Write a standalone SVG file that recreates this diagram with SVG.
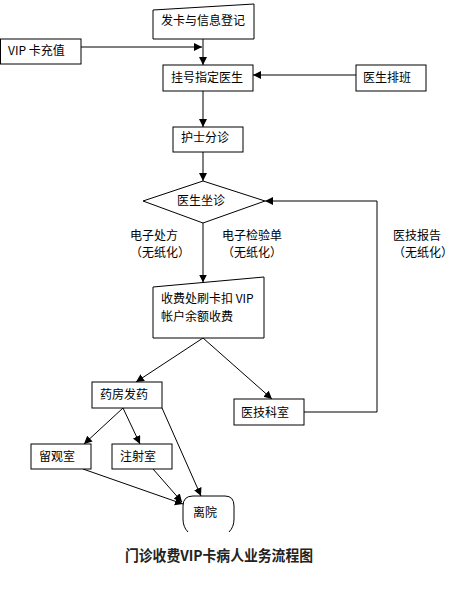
<svg xmlns="http://www.w3.org/2000/svg" width="467" height="600" viewBox="0 0 467 600">
<style>
.n{fill:#fff;stroke:#000;stroke-width:1}
.t{font-family:"Noto Sans CJK SC","Noto Sans",sans-serif;font-size:12px;fill:#000}
.c{fill:none;stroke:#000;stroke-width:1}
.title{font-family:"Noto Sans CJK SC","Noto Sans",sans-serif;font-size:15px;font-weight:bold;fill:#222}
</style>
<defs>
<marker id="a" markerUnits="userSpaceOnUse" markerWidth="9" markerHeight="9" refX="8" refY="4" orient="auto">
<path d="M0,0 L8,4 L0,8 z" fill="#000"/>
</marker>
</defs>
<rect width="467" height="600" fill="#fff"/>
<g id="connectors">
<path class="c" d="M203 39 V65" marker-end="url(#a)"/>
<path class="c" d="M81 47 H202" marker-end="url(#a)"/>
<path class="c" d="M356 75 H253" marker-end="url(#a)"/>
<path class="c" d="M203 91 V127" marker-end="url(#a)"/>
<path class="c" d="M203 152 V181" marker-end="url(#a)"/>
<path class="c" d="M203 223 V282.5" marker-end="url(#a)"/>
<path class="c" d="M203 338 L136 382" marker-end="url(#a)"/>
<path class="c" d="M203 338 L272 399" marker-end="url(#a)"/>
<path class="c" d="M304 412 H377 V201 H265" marker-end="url(#a)"/>
<path class="c" d="M123 408 L84 444" marker-end="url(#a)"/>
<path class="c" d="M123 408 L140 444" marker-end="url(#a)"/>
<path class="c" d="M162 408 L201 496" marker-end="url(#a)"/>
<path class="c" d="M83 469 L183 504" marker-end="url(#a)"/>
<path class="c" d="M153 469 L182 502" marker-end="url(#a)"/>
</g>
<g id="n1"><polygon class="n" points="153,10 254,4 254,39 153,39"/><text class="t" x="161" y="25">发卡与信息登记</text></g>
<g id="n2"><rect class="n" x="0.5" y="39" width="80.5" height="25"/><text class="t" x="8" y="55">VIP 卡充值</text></g>
<g id="n3"><rect class="n" x="163" y="65" width="90" height="26"/><text class="t" x="171" y="82">挂号指定医生</text></g>
<g id="n4"><rect class="n" x="356" y="65" width="70" height="26"/><text class="t" x="363" y="82">医生排班</text></g>
<g id="n5"><rect class="n" x="173" y="127" width="70" height="25"/><text class="t" x="181" y="142">护士分诊</text></g>
<g id="n6"><polygon class="n" points="203,181 265,201 203,223 143,201"/><text class="t" x="177" y="205">医生坐诊</text></g>
<g id="labels">
<text class="t" x="130" y="240">电子处方</text><text class="t" x="130" y="257">（无纸化）</text>
<text class="t" x="222" y="240">电子检验单</text><text class="t" x="222" y="257">（无纸化）</text>
<text class="t" x="393" y="240">医技报告</text><text class="t" x="393" y="257">（无纸化）</text>
</g>
<g id="n7"><polygon class="n" points="153,287 264,277 264,338 153,338"/><text class="t" x="161" y="303">收费处刷卡扣 VIP</text><text class="t" x="161" y="321">帐户余额收费</text></g>
<g id="n8"><rect class="n" x="92" y="382" width="70" height="26"/><text class="t" x="100" y="399">药房发药</text></g>
<g id="n9"><rect class="n" x="234" y="399" width="70" height="26"/><text class="t" x="241" y="417">医技科室</text></g>
<g id="n10"><rect class="n" x="31" y="444" width="60" height="25"/><text class="t" x="39" y="461">留观室</text></g>
<g id="n11"><rect class="n" x="112" y="444" width="60" height="25"/><text class="t" x="120" y="461">注射室</text></g>
<g id="n12"><path class="c" d="M188 532 Q183 527 183 519 L183 506 Q183 496 193 496 L225 496 Q234 496 234 506 L234 519 Q234 527 229 532"/><text class="t" x="193" y="517">离院</text></g>
<text class="title" x="125" y="561" textLength="188" lengthAdjust="spacingAndGlyphs">门诊收费VIP卡病人业务流程图</text>
</svg>
